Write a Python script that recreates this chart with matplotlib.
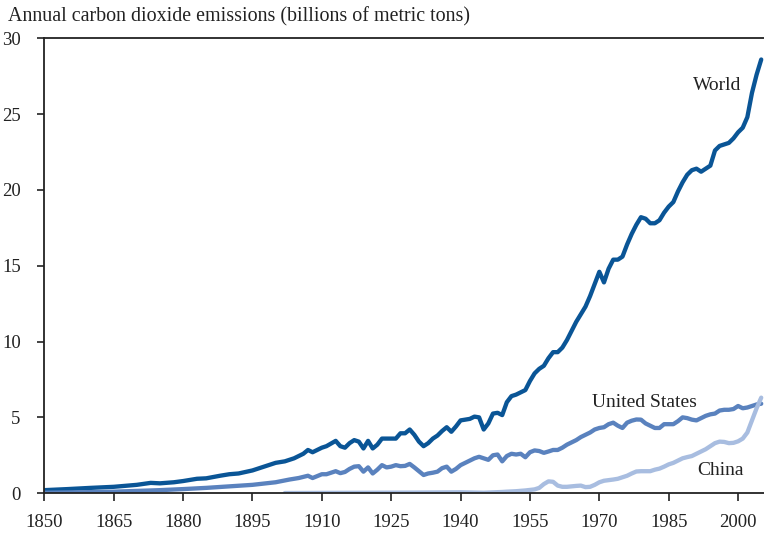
#!/usr/bin/env python3
import numpy as np
import matplotlib
matplotlib.use('Agg')
import matplotlib.pyplot as plt

world_years = [1850, 1855, 1860, 1865, 1870, 1873, 1875, 1878, 1880, 1883, 1885, 1888,
               1890, 1892, 1895, 1898, 1900, 1902, 1904, 1906, 1907, 1908, 1910, 1911,
               1913, 1914, 1915, 1916, 1917, 1918, 1919, 1920, 1921, 1922, 1923, 1925,
               1926, 1927, 1928, 1929, 1930, 1931, 1932, 1933, 1934, 1935, 1936, 1937,
               1938, 1939, 1940, 1941, 1942, 1943, 1944, 1945, 1946, 1947, 1948, 1949,
               1950, 1951, 1952, 1953, 1954, 1955, 1956, 1957, 1958, 1959, 1960, 1961,
               1962, 1963, 1964, 1965, 1966, 1967, 1968, 1969, 1970, 1971, 1972, 1973,
               1974, 1975, 1976, 1977, 1978, 1979, 1980, 1981, 1982, 1983, 1984, 1985,
               1986, 1987, 1988, 1989, 1990, 1991, 1992, 1993, 1994, 1995, 1996, 1997,
               1998, 1999, 2000, 2001, 2002, 2003, 2004, 2005]
world = [0.2, 0.27, 0.35, 0.42, 0.55, 0.68, 0.65, 0.72, 0.8, 0.95, 0.98, 1.15,
         1.25, 1.3, 1.5, 1.8, 2.0, 2.1, 2.3, 2.6, 2.85, 2.7, 3.0, 3.1,
         3.45, 3.1, 3.0, 3.3, 3.5, 3.4, 2.95, 3.45, 2.95, 3.2, 3.6, 3.6,
         3.6, 3.95, 3.95, 4.2, 3.85, 3.4, 3.1, 3.3, 3.6, 3.8, 4.1, 4.35,
         4.05, 4.4, 4.8, 4.85, 4.9, 5.05, 5.0, 4.2, 4.6, 5.25, 5.3, 5.15,
         6.0, 6.4, 6.5, 6.65, 6.8, 7.4, 7.9, 8.2, 8.4, 8.9, 9.3, 9.3,
         9.6, 10.1, 10.7, 11.3, 11.8, 12.3, 13.0, 13.8, 14.6, 13.9, 14.8, 15.4,
         15.4, 15.6, 16.4, 17.1, 17.7, 18.2, 18.1, 17.8, 17.8, 18.0, 18.5, 18.9,
         19.2, 19.9, 20.5, 21.0, 21.3, 21.4, 21.2, 21.4, 21.6, 22.6, 22.9, 23.0,
         23.1, 23.4, 23.8, 24.1, 24.8, 26.4, 27.6, 28.6]

us_years = [1850, 1855, 1860, 1865, 1870, 1875, 1880, 1885, 1890, 1895, 1900, 1903,
            1905, 1907, 1908, 1910, 1911, 1913, 1914, 1915, 1916, 1917, 1918, 1919,
            1920, 1921, 1922, 1923, 1924, 1925, 1926, 1927, 1928, 1929, 1930, 1931,
            1932, 1933, 1934, 1935, 1936, 1937, 1938, 1939, 1940, 1941, 1942, 1943,
            1944, 1945, 1946, 1947, 1948, 1949, 1950, 1951, 1952, 1953, 1954, 1955,
            1956, 1957, 1958, 1959, 1960, 1961, 1962, 1963, 1964, 1965, 1966, 1967,
            1968, 1969, 1970, 1971, 1972, 1973, 1974, 1975, 1976, 1977, 1978, 1979,
            1980, 1981, 1982, 1983, 1984, 1985, 1986, 1987, 1988, 1989, 1990, 1991,
            1992, 1993, 1994, 1995, 1996, 1997, 1998, 1999, 2000, 2001, 2002, 2003,
            2004, 2005]
us = [0.03, 0.05, 0.07, 0.1, 0.15, 0.2, 0.27, 0.35, 0.45, 0.55, 0.72, 0.9,
      1.0, 1.15, 1.0, 1.25, 1.25, 1.45, 1.32, 1.4, 1.6, 1.75, 1.78, 1.42,
      1.7, 1.3, 1.55, 1.85, 1.7, 1.75, 1.85, 1.78, 1.8, 1.93, 1.7, 1.45,
      1.2, 1.3, 1.35, 1.42, 1.65, 1.75, 1.42, 1.6, 1.85, 2.0, 2.15, 2.3,
      2.4, 2.3, 2.2, 2.5, 2.55, 2.1, 2.45, 2.6, 2.55, 2.6, 2.37, 2.7,
      2.82, 2.78, 2.66, 2.75, 2.85, 2.85, 3.0, 3.2, 3.35, 3.5, 3.7, 3.85,
      4.0, 4.2, 4.3, 4.35, 4.55, 4.65, 4.45, 4.3, 4.65, 4.78, 4.86, 4.85,
      4.6, 4.45, 4.3, 4.3, 4.55, 4.55, 4.55, 4.75, 5.0, 4.95, 4.85, 4.8,
      4.95, 5.1, 5.2, 5.25, 5.45, 5.5, 5.5, 5.55, 5.75, 5.6, 5.65, 5.75,
      5.85, 5.9]

china_years = [1902, 1910, 1920, 1930, 1940, 1945, 1949, 1950, 1952, 1954, 1956, 1957,
               1958, 1959, 1960, 1961, 1962, 1963, 1964, 1965, 1966, 1967, 1968, 1969,
               1970, 1971, 1972, 1973, 1974, 1975, 1976, 1977, 1978, 1979, 1980, 1981,
               1982, 1983, 1984, 1985, 1986, 1987, 1988, 1989, 1990, 1991, 1992, 1993,
               1994, 1995, 1996, 1997, 1998, 1999, 2000, 2001, 2002, 2003, 2004, 2005]
china = [0.01, 0.02, 0.03, 0.04, 0.06, 0.03, 0.08, 0.1, 0.13, 0.18, 0.25, 0.35,
         0.6, 0.78, 0.75, 0.5, 0.42, 0.42, 0.45, 0.48, 0.5, 0.4, 0.42, 0.55,
         0.72, 0.82, 0.86, 0.9, 0.95, 1.05, 1.15, 1.3, 1.43, 1.45, 1.45, 1.45,
         1.55, 1.62, 1.75, 1.9, 2.0, 2.15, 2.3, 2.38, 2.45, 2.6, 2.75, 2.9,
         3.1, 3.3, 3.4, 3.38, 3.3, 3.32, 3.42, 3.6, 4.0, 4.8, 5.6, 6.3]

x_ticks = [1850, 1865, 1880, 1895, 1910, 1925, 1940, 1955, 1970, 1985, 2000]
y_ticks = [0, 5, 10, 15, 20, 25, 30]

plt.rcParams['font.family'] = ['Liberation Serif', 'DejaVu Serif']

fig = plt.figure(figsize=(7.64, 5.39), dpi=100)
ax = fig.add_axes([0.058, 0.085, 0.942, 0.844])

line_kw = dict(lw=3.1, solid_capstyle='round', solid_joinstyle='round')
ax.plot(world_years, world, color='#0a5596', **line_kw)
ax.plot(us_years, us, color='#5a82be', **line_kw)
ax.plot(china_years, china, color='#a8bde0', **line_kw)

ax.set_xlim(1850, 2005.6)
ax.set_ylim(0, 30)
ax.set_xticks(x_ticks)
ax.set_yticks(y_ticks)
ax.spines['right'].set_visible(False)
for s in ['left', 'bottom', 'top']:
    ax.spines[s].set_linewidth(1.3)
    ax.spines[s].set_color('#222222')
ax.tick_params(axis='x', length=6, width=1.2, pad=9, labelsize=13.5, colors='#222222')
ax.tick_params(axis='y', length=5, width=1.2, pad=12, labelsize=13.5, colors='#222222')

ax.text(2000.6, 26.9, 'World', fontsize=14, color='#222222', ha='right', va='center')
ax.text(1979.7, 6.0, 'United States', fontsize=14, color='#222222', ha='center', va='center')
ax.text(2001.2, 1.5, 'China', fontsize=14, color='#222222', ha='right', va='center')

fig.text(0.01, 0.968, 'Annual carbon dioxide emissions (billions of metric tons)',
         fontsize=14.4, color='#222222', ha='left', va='center')

plt.savefig('out.png', dpi=100)
